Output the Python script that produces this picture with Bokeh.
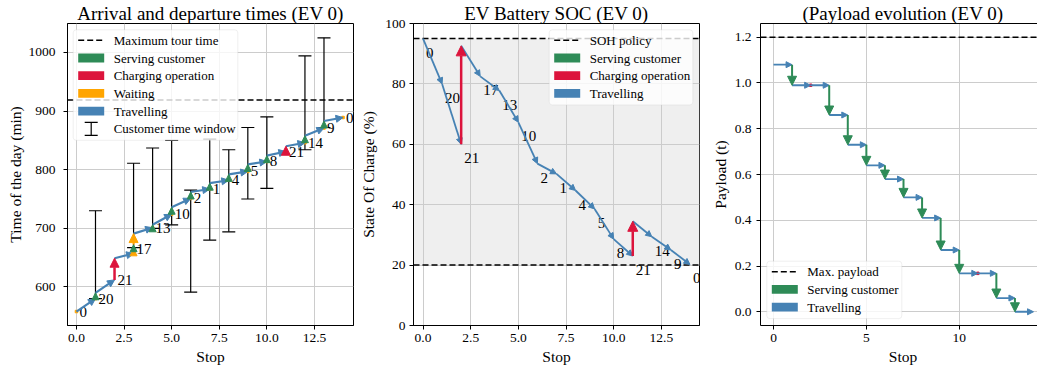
import numpy as np
from bokeh.plotting import figure
from bokeh.models import (ColumnDataSource, Arrow, NormalHead, TeeHead, Whisker,
                          Span, BoxAnnotation, Label, FixedTicker, PrintfTickFormatter,
                          Range1d, LinearAxis)
from bokeh.layouts import row
from bokeh.core.properties import value
from bokeh.embed import file_html
from bokeh.resources import INLINE

FONT = "Liberation Serif"
GREEN, RED, ORANGE, BLUE = "#2e8b57", "#dc143c", "#ffa500", "#4682b4"

# ------------------------------------------------------------------ data
route_nodes = [0, 20, 21, 17, 13, 10, 2, 1, 4, 5, 8, 21, 14, 9, 0]
charging_nodes = [21]
depot_nodes = [0]

# times (min)
arrival_time   = [558, 580, 612, 657, 701, 724, 751, 767, 782, 797, 814, 831, 846, 871, 889]
service_start  = [558, 580, 612, 665, 701, 724, 751, 767, 782, 797, 814, 831, 846, 871, 889]
service_end    = [558, 590, 649, 672, 706, 736, 762, 777, 792, 809, 824, 840, 858, 883, 889]
departure_time = [558, 590, 649, 691, 706, 736, 762, 777, 792, 809, 824, 840, 858, 883, 889]
tw_start = [None, 580, None, 667, 700, 706, 591, 680, 694, 750, 768, None, 834, 872, None]
tw_end   = [None, 730, None, 811, 837, 850, 765, 852, 834, 872, 890, None, 994, 1025, None]
max_tour_time = 919

# state of charge (%)
soc_arrival   = [95.0, 80.0, 60.0, 82.5, 77.8, 67.3, 53.6, 50.2, 44.7, 38.6, 28.6, 23.0, 29.4, 25.0, 20.2]
soc_departure = [95.0, 80.0, 92.6, 82.5, 77.8, 67.3, 53.6, 50.2, 44.7, 38.6, 28.6, 34.5, 29.4, 25.0, 20.2]
soh_upper = 95
soh_lower = 20

# payload on board after each stop (t)
payload_after = [1.08, 0.99, 0.99, 0.86, 0.73, 0.64, 0.58, 0.50, 0.41, 0.27, 0.168, 0.168, 0.06, 0.0, 0.0]
max_payload = 1.2

# ticks
stop_xticks = [0, 2.5, 5, 7.5, 10, 12.5]
time_yticks = [600, 700, 800, 900, 1000]
soc_yticks = [0, 20, 40, 60, 80, 100]
payload_xticks = [0, 5, 10]
payload_yticks = [0.0, 0.2, 0.4, 0.6, 0.8, 1.0, 1.2]

titles = ["Arrival and departure times (EV 0)", "EV Battery SOC (EV 0)", "(Payload evolution (EV 0)"]

# ------------------------------------------------------------------ helpers
FH = 302
stops = list(range(len(route_nodes)))
is_charge = [n in charging_nodes for n in route_nodes]
is_depot = [n in depot_nodes for n in route_nodes]
is_cust = [not (c or d) for c, d in zip(is_charge, is_depot)]
labels = [str(n) for n in route_nodes]


def make_fig(xr, yr, fw, bl, br, xlabel, ylabel, xticks, yticks, xfmt, yfmt,
             ystand, ylabstand, title):
    p = figure(frame_width=fw, frame_height=FH, x_range=Range1d(*xr), y_range=Range1d(*yr),
               output_backend="svg", toolbar_location=None,
               min_border_left=bl, min_border_right=br, min_border_top=23, min_border_bottom=45,
               x_axis_label=xlabel, y_axis_label=ylabel, title=title)
    p.title.text_font = FONT
    p.title.text_font_size = "19px"
    p.title.text_font_style = "normal"
    p.title.text_color = "black"
    p.title.align = "center"
    p.title.standoff = 0
    p.title.offset = 0
    p.background_fill_color = "white"
    p.border_fill_color = "white"
    p.outline_line_color = "black"
    p.outline_line_width = 1
    for ax in p.axis:
        ax.axis_line_color = "black"
        ax.major_tick_line_color = "black"
        ax.major_tick_out = 4
        ax.major_tick_in = 0
        ax.minor_tick_line_color = None
        ax.major_label_text_font = FONT
        ax.major_label_text_font_size = "13.5px"
        ax.major_label_text_color = "black"
        ax.axis_label_text_font = FONT
        ax.axis_label_text_font_size = "15.5px"
        ax.axis_label_text_font_style = "normal"
        ax.axis_label_text_color = "black"
    p.xaxis.ticker = FixedTicker(ticks=xticks)
    p.yaxis.ticker = FixedTicker(ticks=yticks)
    p.xaxis.formatter = PrintfTickFormatter(format=xfmt)
    p.yaxis.formatter = PrintfTickFormatter(format=yfmt)
    p.xaxis.major_label_standoff = 4
    p.xaxis.axis_label_standoff = 3
    p.yaxis.major_label_standoff = ystand
    p.yaxis.axis_label_standoff = ylabstand
    p.grid.grid_line_color = "#cccccc"
    p.grid.grid_line_width = 1
    return p


def add_legend(p, items, box_left, box_top, box_width):
    n = len(items)
    row_h, first = 17.7, 10.5
    box_h = first + (n - 1) * row_h + 11.5
    p.add_layout(BoxAnnotation(left=box_left, right=box_left + box_width,
                               top=FH - box_top, bottom=FH - box_top - box_h,
                               left_units="screen", right_units="screen",
                               top_units="screen", bottom_units="screen",
                               fill_color="white", fill_alpha=0.8,
                               line_color="#cccccc", line_width=1, border_radius=3))
    pl = box_left + 5
    pr = pl + 26
    for k, (kind, color, text) in enumerate(items):
        yc = FH - (box_top + first + k * row_h)
        if kind == "dash":
            p.add_layout(Arrow(end=None, x_start=pl, x_end=pr, y_start=yc, y_end=yc,
                               start_units="screen", end_units="screen",
                               line_color="black", line_width=1.5, line_dash="6 3"))
        elif kind == "patch":
            p.add_layout(BoxAnnotation(left=pl, right=pr, bottom=yc - 4.4, top=yc + 4.4,
                                       left_units="screen", right_units="screen",
                                       top_units="screen", bottom_units="screen",
                                       fill_color=color, fill_alpha=1, line_color=None))
        elif kind == "window":
            xc = pl + 13
            p.add_layout(Arrow(start=TeeHead(size=13, line_color="black", line_width=1.2),
                               end=TeeHead(size=13, line_color="black", line_width=1.2),
                               x_start=xc, x_end=xc, y_start=yc - 6.5, y_end=yc + 6.5,
                               start_units="screen", end_units="screen",
                               line_color="black", line_width=1.2))
        p.add_layout(Label(x=box_left + 40.5, y=yc, x_units="screen", y_units="screen",
                           text=text, text_baseline="middle", text_align="left",
                           text_font=FONT, text_font_size="13px", text_color="black"))


def add_arrows(p, x0, y0, x1, y1, color, lw, head):
    keep = [i for i in range(len(x0)) if (x0[i] != x1[i]) or (y0[i] != y1[i])]
    if not keep:
        return
    src = ColumnDataSource(dict(x0=[x0[i] for i in keep], y0=[y0[i] for i in keep],
                                x1=[x1[i] for i in keep], y1=[y1[i] for i in keep]))
    p.add_layout(Arrow(end=NormalHead(size=head, fill_color=color, line_color=color, line_width=1),
                       x_start="x0", y_start="y0", x_end="x1", y_end="y1", source=src,
                       line_color=color, line_width=lw))


# ------------------------------------------------------------------ panel 1: times
p1 = make_fig((-0.47, 14.55), (534.2, 1049.4), 286, 67, 4, "Stop", "Time of the day (min)",
              stop_xticks, time_yticks, "%.1f", "%d", 8, 2, titles[0])

tw_idx = [i for i in stops if tw_start[i] is not None]
tw_src = ColumnDataSource(dict(x=[stops[i] for i in tw_idx],
                               lo=[tw_start[i] for i in tw_idx],
                               hi=[tw_end[i] for i in tw_idx]))
p1.add_layout(Whisker(source=tw_src, base="x", lower="lo", upper="hi", dimension="height",
                      line_color="black", line_width=1.2,
                      lower_head=TeeHead(size=13, line_color="black", line_width=1.2),
                      upper_head=TeeHead(size=13, line_color="black", line_width=1.2)))

p1.add_layout(Span(location=max_tour_time, dimension="width", line_color="black",
                   line_width=1.5, line_dash="6 3"))

# travel
add_arrows(p1, stops[:-1], departure_time[:-1], stops[1:], arrival_time[1:], BLUE, 2.2, 7)
# waiting
w_i = [i for i in stops if not is_charge[i]]
add_arrows(p1, [stops[i] for i in w_i], [arrival_time[i] for i in w_i],
           [stops[i] for i in w_i], [service_start[i] for i in w_i], ORANGE, 2, 7)
add_arrows(p1, [stops[i] for i in w_i], [service_end[i] for i in w_i],
           [stops[i] for i in w_i], [departure_time[i] for i in w_i], ORANGE, 2, 9)
# small zero-length waiting marks
zw = [i for i in w_i if arrival_time[i] == service_start[i]]
p1.scatter([stops[i] for i in zw], [arrival_time[i] for i in zw], size=2.5, marker="square",
           color=ORANGE)
# serving
c_i = [i for i in stops if is_cust[i]]
add_arrows(p1, [stops[i] for i in c_i], [service_start[i] for i in c_i],
           [stops[i] for i in c_i], [service_end[i] for i in c_i], GREEN, 2, 7)
# charging
r_i = [i for i in stops if is_charge[i]]
add_arrows(p1, [stops[i] for i in r_i], [arrival_time[i] for i in r_i],
           [stops[i] for i in r_i], [departure_time[i] for i in r_i], RED, 2.5, 9)

lab1 = ColumnDataSource(dict(x=stops, y=service_start, t=labels))
p1.text(x="x", y="y", text="t", source=lab1, text_font=value(FONT),
        text_font_size=value("15px"), text_baseline="middle", text_align="left",
        x_offset=3, text_color="black")

add_legend(p1, [("dash", "black", "Maximum tour time"),
                ("patch", GREEN, "Serving customer"),
                ("patch", RED, "Charging operation"),
                ("patch", ORANGE, "Waiting"),
                ("patch", BLUE, "Travelling"),
                ("window", "black", "Customer time window")], 5.7, 6.3, 164.6)

# ------------------------------------------------------------------ panel 2: SOC
p2 = make_fig((-0.5, 14.5), (0, 100), 286, 53, 9, "Stop", "State Of Charge (%)",
              stop_xticks, soc_yticks, "%.1f", "%d", 4, 5, titles[1])
p2.add_layout(BoxAnnotation(bottom=soh_lower, top=soh_upper, fill_color="#efefef", fill_alpha=1,
                            line_color=None, level="image"))
p2.add_layout(Span(location=soh_upper, dimension="width", line_color="black",
                   line_width=1.5, line_dash="6 3"))
p2.add_layout(Span(location=soh_lower, dimension="width", line_color="black",
                   line_width=1.5, line_dash="6 3"))
add_arrows(p2, stops[:-1], soc_departure[:-1], stops[1:], soc_arrival[1:], BLUE, 1.8, 6)
add_arrows(p2, [stops[i] for i in r_i], [soc_arrival[i] for i in r_i],
           [stops[i] for i in r_i], [soc_departure[i] for i in r_i], RED, 2.5, 10)
lab2 = ColumnDataSource(dict(x=stops, y=soc_arrival, t=labels))
p2.text(x="x", y="y", text="t", source=lab2, text_font=value(FONT),
        text_font_size=value("15px"), text_baseline="middle", text_align="left",
        x_offset=3, y_offset=14, text_color="black")
add_legend(p2, [("dash", "black", "SOH policy"),
                ("patch", GREEN, "Serving customer"),
                ("patch", RED, "Charging operation"),
                ("patch", BLUE, "Travelling")], 135.7, 6.3, 143.6)

# ------------------------------------------------------------------ panel 3: payload
FW3 = 285
p3 = make_fig((-0.7, -0.7 + FW3 * 15.4 / 286), (-0.06, 1.26), FW3, 47, 0, "Stop", "Payload (t)",
              payload_xticks, payload_yticks, "%d", "%.1f", 5, 3, titles[2])
p3.outline_line_color = None
top_ax = LinearAxis(axis_line_color="black", major_tick_line_color=None,
                    minor_tick_line_color=None, major_label_text_font_size="0px",
                    major_label_standoff=0, ticker=FixedTicker(ticks=[]))
p3.add_layout(top_ax, "above")
p3.add_layout(Span(location=max_payload, dimension="width", line_color="black",
                   line_width=1.5, line_dash="6 3"))
add_arrows(p3, stops[:-1], payload_after[:-1], stops[1:], payload_after[:-1], BLUE, 1.8, 6)
p3.scatter([stops[i] for i in r_i], [payload_after[i] for i in r_i], size=2.5,
           marker="square", color=RED)
add_arrows(p3, [stops[i] for i in c_i], [payload_after[i - 1] for i in c_i],
           [stops[i] for i in c_i], [payload_after[i] for i in c_i], GREEN, 2, 9)
add_legend(p3, [("dash", "black", "Max. payload"),
                ("patch", GREEN, "Serving customer"),
                ("patch", BLUE, "Travelling")], 6.3, 237.7, 135)

layout = row(p1, p2, p3, spacing=0)
open("out.html", "w").write(file_html(layout, INLINE))
